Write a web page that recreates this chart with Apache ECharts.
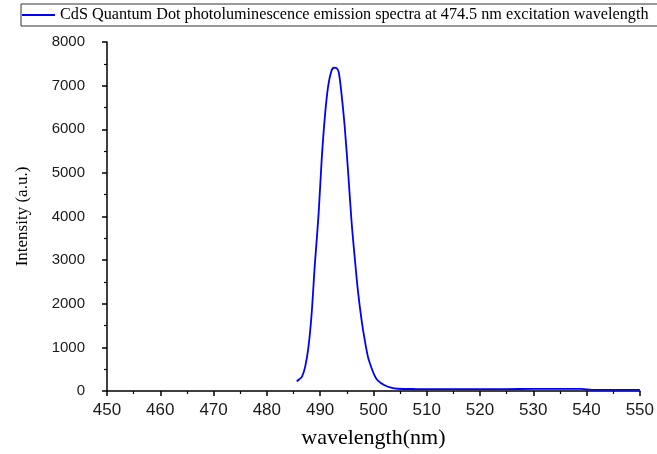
<!DOCTYPE html>
<html>
<head>
<meta charset="utf-8">
<script src="https://cdn.jsdelivr.net/npm/echarts@6/dist/echarts.min.js"></script>
<style>
html,body{margin:0;padding:0;background:#fff;}
#chart{width:657px;height:454px;}
</style>
</head>
<body>
<div id="chart"></div>
<script>
var seriesName = 'CdS Quantum Dot photoluminescence emission spectra at 474.5 nm excitation wavelength';
var wavelength = [485.6, 486.1, 486.6, 487.2, 487.8, 488.4, 489.0, 489.7, 490.3, 490.9, 491.5, 492.1, 492.6, 493.1, 493.5, 494.0, 494.6, 495.3, 495.9, 496.5, 497.1, 497.8, 498.4, 499.0, 499.6, 500.2, 500.8, 502.1, 503.3, 504.6, 508, 515, 520, 525, 530, 535, 539, 541, 545, 550];
var intensity  = [220, 270, 330, 560, 1000, 1760, 2890, 4030, 5320, 6300, 6980, 7330, 7410, 7400, 7300, 6830, 6080, 4940, 3880, 3050, 2290, 1610, 1150, 770, 545, 360, 245, 130, 75, 52, 45, 42, 42, 44, 47, 50, 50, 28, 26, 25];
var xTicks = {min: 450, max: 550, interval: 10};
var yTicks = {min: 0, max: 8000, interval: 1000};

var data = wavelength.map(function (w, i) { return [w, intensity[i]]; });

var chart = echarts.init(document.getElementById('chart'), null, {renderer: 'canvas'});
chart.setOption({
  animation: false,
  backgroundColor: '#ffffff',
  legend: {
    left: 21, top: 4,
    padding: [3, 12, 3, 1],
    borderColor: '#333', borderWidth: 1,
    itemWidth: 33, itemHeight: 2,
    data: [{name: seriesName, icon: 'rect'}],
    textStyle: {fontFamily: 'Liberation Serif', fontSize: 16.2, color: '#000'}
  },
  grid: {left: 107, right: 13, top: 42, bottom: 60, containLabel: false},
  xAxis: {
    type: 'value', min: xTicks.min, max: xTicks.max, interval: xTicks.interval,
    name: 'wavelength(nm)', nameLocation: 'middle', nameGap: 36,
    nameTextStyle: {fontFamily: 'Liberation Serif', fontSize: 22, color: '#000'},
    axisLine: {onZero: false, lineStyle: {color: '#000', width: 1.5}},
    axisTick: {length: 5, lineStyle: {color: '#000', width: 1.5}},
    minorTick: {show: true, splitNumber: 2, length: 3, lineStyle: {color: '#000', width: 1.2}},
    splitLine: {show: false},
    axisLabel: {fontFamily: 'Liberation Sans', fontSize: 17, color: '#1a1a1a', margin: 11}
  },
  yAxis: {
    type: 'value', min: yTicks.min, max: yTicks.max, interval: yTicks.interval,
    name: 'Intensity (a.u.)', nameLocation: 'middle', nameGap: 76, nameRotate: 90,
    nameTextStyle: {fontFamily: 'Liberation Serif', fontSize: 17, color: '#000'},
    axisLine: {show: true, lineStyle: {color: '#000', width: 1.5}},
    axisTick: {show: true, length: 5, lineStyle: {color: '#000', width: 1.5}},
    minorTick: {show: true, splitNumber: 2, length: 3, lineStyle: {color: '#000', width: 1.2}},
    splitLine: {show: false},
    axisLabel: {fontFamily: 'Liberation Sans', fontSize: 15, color: '#1a1a1a', margin: 22,
      formatter: function (v) { return String(v); }}
  },
  series: [{
    name: seriesName,
    type: 'line',
    data: data,
    showSymbol: false,
    smooth: 0.3,
    itemStyle: {color: '#0000ff'},
    lineStyle: {color: '#0000ff', width: 1.8}
  }]
});
</script>
</body>
</html>
